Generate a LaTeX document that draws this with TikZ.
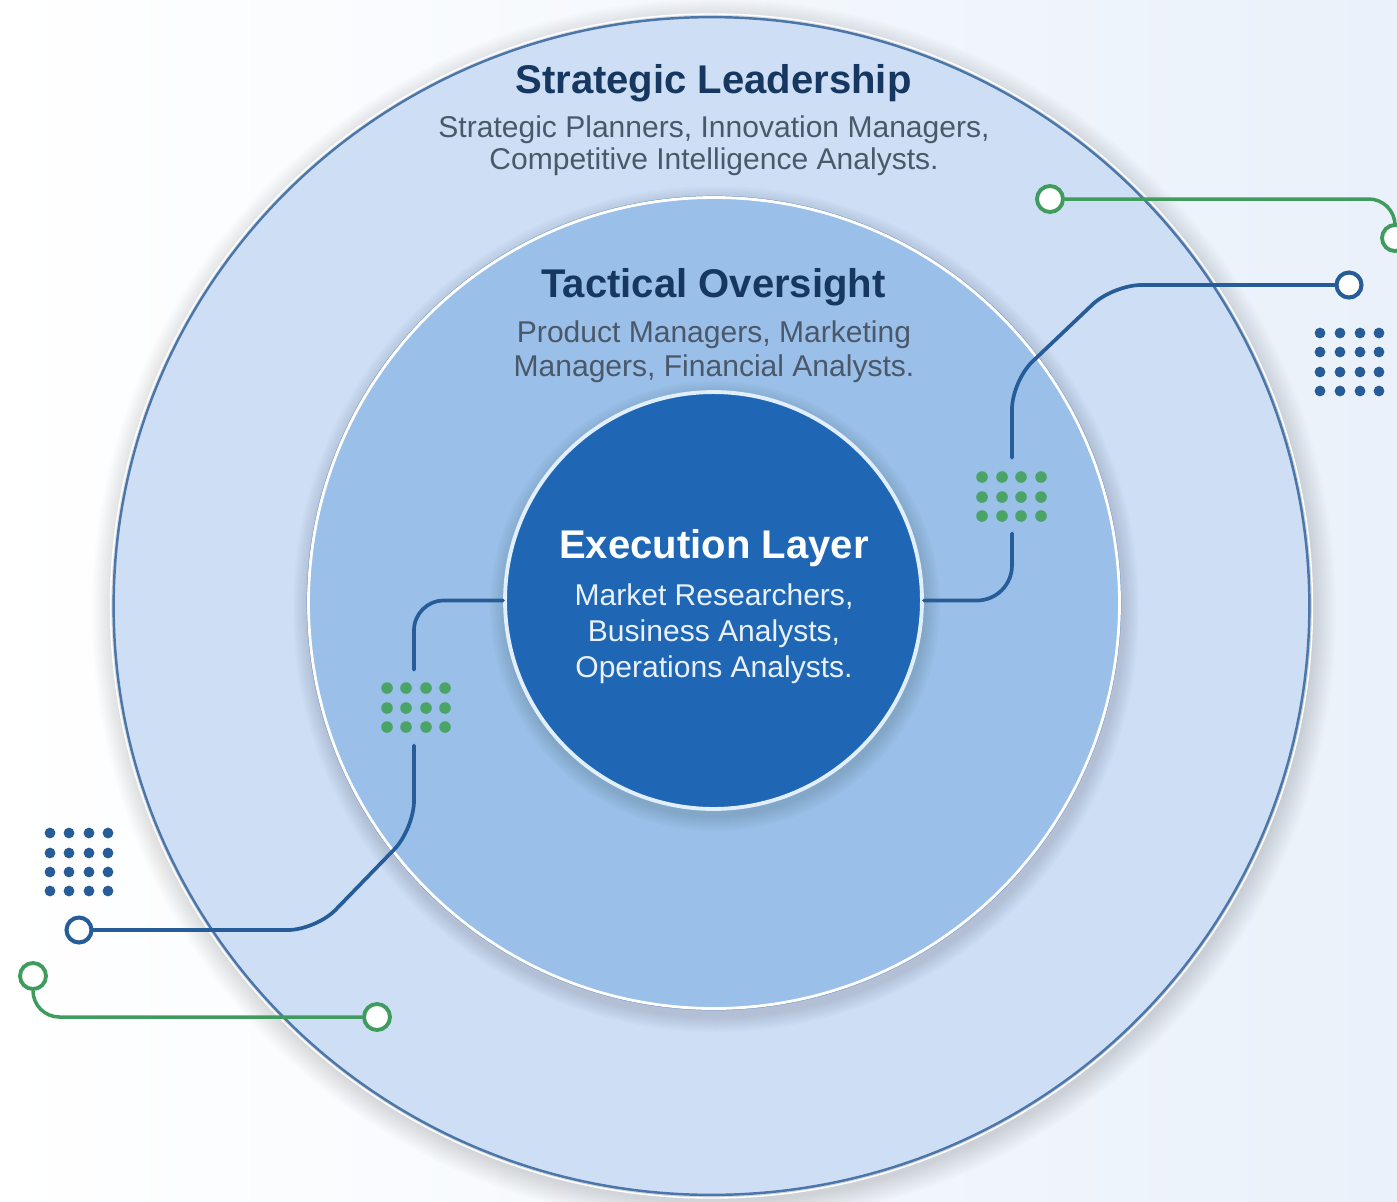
\documentclass[tikz,border=0pt]{standalone}
\usepackage{fontspec}
\setmainfont{Liberation Sans}
\usetikzlibrary{shapes.geometric}
\definecolor{bgR}{RGB}{234,241,250}
\definecolor{outerFill}{RGB}{206,223,245}
\definecolor{outerEdge}{RGB}{74,118,170}
\definecolor{midFill}{RGB}{154,191,232}
\definecolor{midEdge}{RGB}{110,150,198}
\definecolor{innerFill}{RGB}{31,102,181}
\definecolor{innerEdge}{RGB}{225,238,251}
\definecolor{lineBlue}{RGB}{38,92,152}
\definecolor{lineGreen}{RGB}{64,156,94}
\definecolor{dotGreen}{RGB}{74,164,104}
\definecolor{navy}{RGB}{22,55,96}
\definecolor{subGray}{RGB}{74,88,106}
\definecolor{subLight}{RGB}{232,241,252}
\begin{document}
\begin{tikzpicture}[x=0.02cm,y=-0.02cm,
  bline/.style={draw=lineBlue,line width=2.1pt,line cap=round},
  gline/.style={draw=lineGreen,line width=2pt,line cap=round},
  bring/.style={circle,draw=lineBlue,line width=2.3pt,fill=white,minimum size=0.5cm,inner sep=0pt},
  gring/.style={circle,draw=lineGreen,line width=2.2pt,fill=white,minimum size=0.52cm,inner sep=0pt},
  gap/.style={rectangle,inner sep=0pt,minimum width=1.4cm,minimum height=1.5cm},
  ttl/.style={font=\fontsize{22.8}{27}\selectfont\bfseries,text=navy,anchor=base,inner sep=0pt},
  sub/.style={font=\fontsize{17.1}{20}\selectfont,text=subGray,anchor=base,inner sep=0pt},
  ittl/.style={ttl,text=white},
  isub/.style={sub,text=subLight}]
\useasboundingbox (0,0) rectangle (1397,1201);
\clip (0,0) rectangle (1397,1201);
\shade[left color=white,right color=bgR] (0,0) rectangle (1397,1201);

% outer layer with soft shadow
\foreach \i in {1,...,12}
  \fill[black,opacity=0.010] (714,612) ellipse [x radius={598+2*\i}, y radius={589+2*\i}];
\node[ellipse,fill=outerFill,draw=outerEdge,line width=1.4pt,minimum width=23.92cm,minimum height=23.56cm,inner sep=0pt] (outer) at (711.5,606) {};
\draw[white,line width=0.8pt] (711.5,606) ellipse [x radius=601, y radius=592];

% middle layer
\foreach \i in {1,...,8}
  \fill[black,opacity=0.014] (716,609) circle [radius={407+2*\i}];
\node[circle,fill=midFill,draw=midEdge,line width=0.5pt,minimum size=16.28cm,inner sep=0pt] (middle) at (714,603) {};
\draw[white,line width=1.6pt] (714,603) circle [radius=405.5];

% inner layer
\foreach \i in {1,...,8}
  \fill[black,opacity=0.016] (715,606) circle [radius={209+2*\i}];
\node[circle,fill=innerFill,draw=innerEdge,line width=2.2pt,minimum size=8.34cm,inner sep=0pt] (exec) at (713.5,600.5) {};

% gaps where the green dot grids sit
\node[gap] (gapR) at (1012,495.5) {};
\node[gap] (gapL) at (414,707.5) {};

% end rings
\node[bring] (bR) at (1349,285) {};
\node[bring] (bL) at (79,930) {};
\node[gring] (gR1) at (1050,199) {};
\node[gring] (gR2) at (1395,238) {};
\node[gring] (gL1) at (33,976) {};
\node[gring] (gL2) at (377,1017) {};

% bend points
\coordinate (cR1) at (1012,381);
\coordinate (cR2) at (1113,285);
\coordinate (cL1) at (414,829);
\coordinate (cL2) at (316,930);
\coordinate (cG1) at (1395,199);
\coordinate (cG2) at (33,1017);

% blue connectors
\draw[bline,rounded corners=20] (exec.east) -- (exec.east -| gapR.south) -- (gapR.south);
\draw[bline,rounded corners=16] (gapR.north) -- (cR1) -- (cR2) -- (bR.west);
\draw[bline,rounded corners=17] (exec.west) -- (exec.west -| gapL.north) -- (gapL.north);
\draw[bline,rounded corners=16] (gapL.south) -- (cL1) -- (cL2) -- (bL.east);

% green connectors
\draw[gline,rounded corners=15] (gR1.east) -- (cG1) -- (gR2.north);
\draw[gline,rounded corners=15] (gL1.south) -- (cG2) -- (gL2.west);

% dot grids
\foreach \x in {1320,1340,1360,1379} \foreach \y in {333,352,372,391}
  \fill[lineBlue] (\x,\y) circle [radius=5.4];
\foreach \x in {50,69,89,108} \foreach \y in {833,853,872,891}
  \fill[lineBlue] (\x,\y) circle [radius=5.4];
\foreach \x in {982,1002,1021,1041} \foreach \y in {477,497,516}
  \fill[dotGreen] (\x,\y) circle [radius=5.8];
\foreach \x in {387,406,426,445} \foreach \y in {688,708,727}
  \fill[dotGreen] (\x,\y) circle [radius=5.8];

% texts
\node[ttl] (t1) at (713.5,93) {Strategic Leadership};
\node[sub] (s1a) at (714,137) {Strategic Planners, Innovation Managers,};
\node[sub] (s1b) at (714,169) {Competitive Intelligence Analysts.};
\node[ttl] (t2) at (713.5,297) {Tactical Oversight};
\node[sub] (s2a) at (714,342) {Product Managers, Marketing};
\node[sub] (s2b) at (714,376) {Managers, Financial Analysts.};
\node[ittl] (t3) at (714,558) {Execution Layer};
\node[isub] (s3a) at (714,605) {Market Researchers,};
\node[isub] (s3b) at (714,641) {Business Analysts,};
\node[isub] (s3c) at (714,677) {Operations Analysts.};
\end{tikzpicture}
\end{document}
